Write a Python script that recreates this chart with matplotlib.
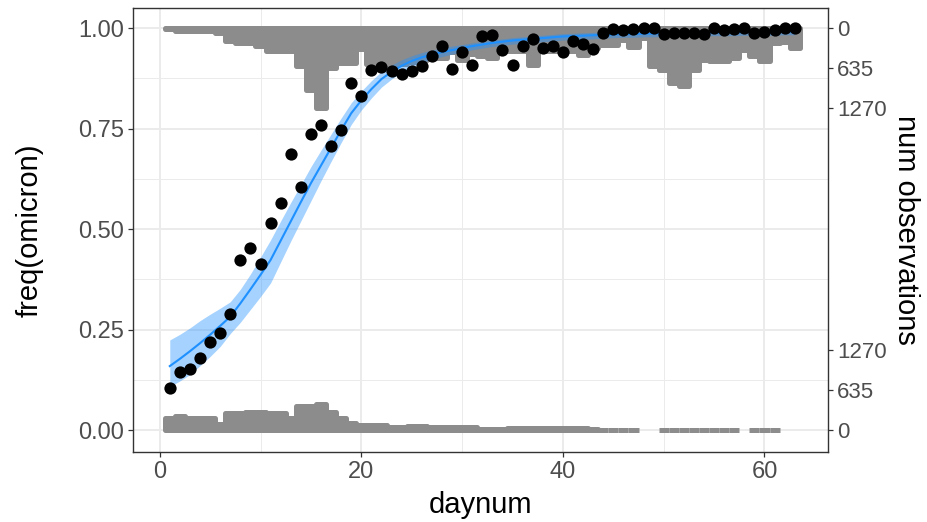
import numpy as np
import matplotlib
matplotlib.use("Agg")
import matplotlib.pyplot as plt

plt.rcParams['font.family'] = ['Liberation Sans', 'DejaVu Sans']

# daily data
days = np.arange(1, 64)

freq_omicron = [0.104, 0.144, 0.152, 0.179, 0.219, 0.241, 0.289, 0.423, 0.453, 0.413,
                0.515, 0.565, 0.687, 0.604, 0.736, 0.759, 0.706, 0.746, 0.862, 0.831,
                0.896, 0.903, 0.893, 0.886, 0.893, 0.905, 0.930, 0.955, 0.898, 0.940,
                0.908, 0.979, 0.983, 0.945, 0.908, 0.955, 0.973, 0.950, 0.955, 0.941,
                0.968, 0.960, 0.948, 0.988, 0.997, 0.995, 0.997, 1.000, 1.000, 0.984,
                0.987, 0.988, 0.987, 0.985, 0.999, 0.995, 0.997, 1.000, 0.987, 0.991,
                0.995, 1.000, 1.000]

fit_mid = [0.159, 0.177, 0.196, 0.216, 0.237, 0.259, 0.282, 0.315, 0.350, 0.386,
           0.423, 0.471, 0.519, 0.567, 0.614, 0.658, 0.702, 0.746, 0.788, 0.820,
           0.848, 0.873, 0.891, 0.906, 0.918, 0.927, 0.934, 0.940, 0.945, 0.950,
           0.955, 0.959, 0.963, 0.966, 0.969, 0.971, 0.973, 0.975, 0.977, 0.979,
           0.980, 0.981, 0.982, 0.983, 0.984, 0.985, 0.985, 0.986, 0.986, 0.987,
           0.987, 0.988, 0.988, 0.988, 0.989, 0.989, 0.989, 0.990, 0.990, 0.990,
           0.990, 0.991, 0.991]

fit_lo = [0.108, 0.122, 0.138, 0.160, 0.183, 0.208, 0.240, 0.268, 0.300, 0.332,
          0.366, 0.418, 0.470, 0.520, 0.570, 0.620, 0.668, 0.715, 0.760, 0.796,
          0.826, 0.853, 0.873, 0.890, 0.904, 0.914, 0.922, 0.929, 0.935, 0.940,
          0.946, 0.950, 0.954, 0.957, 0.960, 0.962, 0.964, 0.966, 0.968, 0.970,
          0.971, 0.972, 0.973, 0.975, 0.976, 0.977, 0.977, 0.978, 0.978, 0.979,
          0.979, 0.980, 0.980, 0.980, 0.981, 0.981, 0.981, 0.982, 0.982, 0.982,
          0.982, 0.983, 0.983]

fit_hi = [0.224, 0.238, 0.254, 0.272, 0.288, 0.303, 0.319, 0.350, 0.388, 0.430,
          0.473, 0.520, 0.566, 0.610, 0.655, 0.696, 0.736, 0.776, 0.814, 0.843,
          0.869, 0.892, 0.908, 0.921, 0.931, 0.939, 0.945, 0.951, 0.955, 0.959,
          0.963, 0.967, 0.970, 0.973, 0.976, 0.978, 0.980, 0.982, 0.984, 0.986,
          0.987, 0.988, 0.989, 0.990, 0.991, 0.992, 0.992, 0.993, 0.993, 0.994,
          0.994, 0.995, 0.995, 0.995, 0.996, 0.996, 0.996, 0.997, 0.997, 0.997,
          0.997, 0.998, 0.998]

# counts per day (omicron hangs from the top, the rest stands on the bottom)
n_omicron = [16, 47, 47, 47, 47, 79, 205, 237, 237, 284,
             363, 363, 363, 600, 980, 1264, 632, 553, 553, 332,
             569, 600, 600, 569, 537, 506, 474, 474, 379, 506,
             411, 442, 474, 363, 363, 363, 585, 363, 363, 363,
             363, 427, 316, 269, 269, 190, 300, 158, 600, 664,
             869, 916, 664, 506, 521, 521, 474, 348, 442, 521,
             237, 221, 316]

n_other = [190, 221, 182, 182, 182, 95, 261, 261, 292, 292,
           269, 269, 190, 379, 379, 411, 277, 190, 103, 79,
           79, 79, 55, 55, 63, 63, 40, 55, 55, 40,
           40, 16, 16, 16, 32, 24, 32, 24, 28, 24,
           28, 24, 20, 8, 8, 8, 8, np.nan, np.nan, 8,
           8, 8, 8, 8, 8, 8, 8, np.nan, 8, 8,
           8, np.nan, np.nan]

count_ticks = [0, 635, 1270]
count_scale = 0.2 / 1270

gray = '#8C8C8C'
blue = '#1E90FF'

fig = plt.figure(figsize=(9.27, 5.22), dpi=100)
ax = fig.add_axes([133/927, 1 - 452/522, 695/927, 444/522])

ax.set_xlim(-2.65, 66.3)
ax.set_ylim(-0.0547, 1.0498)

ax.set_xticks([0, 20, 40, 60])
ax.set_xticks([10, 30, 50], minor=True)
ax.set_yticks([0, 0.25, 0.5, 0.75, 1.0])
ax.set_yticklabels(['0.00', '0.25', '0.50', '0.75', '1.00'])
ax.set_yticks([0.125, 0.375, 0.625, 0.875], minor=True)
ax.grid(which='major', color='#EBEBEB', lw=1.4)
ax.grid(which='minor', color='#EBEBEB', lw=0.7)
ax.set_axisbelow(True)

top = np.array(n_omicron, dtype=float)
bot = np.array(n_other, dtype=float)
ok = ~np.isnan(bot)
ax.bar(days, -top * count_scale, bottom=1, width=1, color=gray,
       edgecolor=gray, linewidth=3.6, joinstyle='round', zorder=2)
ax.bar(days[ok], bot[ok] * count_scale, bottom=0, width=1, color=gray,
       edgecolor=gray, linewidth=3.6, joinstyle='round', zorder=2)

ax.fill_between(days, fit_lo, fit_hi, color=blue, alpha=0.4, lw=0, zorder=3)
ax.plot(days, fit_mid, color=blue, lw=1.5, zorder=4)
ax.scatter(days, freq_omicron, s=78, color='black', lw=0, zorder=5)

for s in ax.spines.values():
    s.set_color('#333333')
    s.set_linewidth(1.0)
ax.tick_params(which='major', direction='out', length=3.5, width=0.9,
               color='#333333', labelcolor='#4D4D4D', labelsize=17, pad=3)
ax.tick_params(which='minor', length=0)

ax.set_xlabel('daynum', fontsize=21, labelpad=6)
ax.set_ylabel('freq(omicron)', fontsize=21, labelpad=25)

# secondary axis for the counts
ax2 = ax.twinx()
ax2.set_ylim(ax.get_ylim())
pos = [1 - c * count_scale for c in count_ticks] + [c * count_scale for c in count_ticks]
labs = [str(c) for c in count_ticks] * 2
ax2.set_yticks(pos)
ax2.set_yticklabels(labs)
for s in ax2.spines.values():
    s.set_visible(False)
ax2.tick_params(direction='out', length=3.5, width=0.9, color='#333333',
                labelcolor='#4D4D4D', labelsize=16, pad=3)
ax2.set_ylabel('num observations', fontsize=21, rotation=270, labelpad=24)

fig.savefig('out.png', dpi=100)
